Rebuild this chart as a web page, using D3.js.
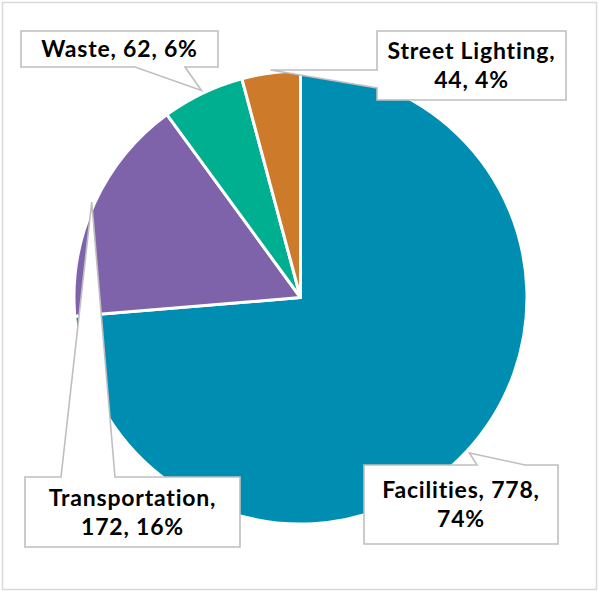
<!DOCTYPE html>
<html>
<head>
<meta charset="utf-8">
<script src="https://cdn.jsdelivr.net/npm/d3@7"></script>
<style>
  html, body { margin: 0; padding: 0; background: #fff; }
  svg { display: block; }
  .lbl { font-family: Lato, "DejaVu Sans", sans-serif; font-weight: 700; font-size: 23px; letter-spacing: 0.8px; fill: #000; }
</style>
</head>
<body>
<svg id="chart" width="599" height="591"></svg>
<script>
// Energy use by sector
const categories = ["Facilities", "Transportation", "Waste", "Street Lighting"];
const values = [778, 172, 62, 44];
const colors = ["#008DB2", "#7F63AA", "#00AF90", "#CD7A2B"];
// How many comma-separated parts of each label sit on the first line
const firstLineParts = [2, 1, 3, 1];

// Callout layout: box [x0, y0, x1, y1], the box side the pointer leaves from, and
// the two points of the pointer base along that side
const callouts = [
  { box: [364, 465, 558, 544], side: "top",    base: [477, 525] },
  { box: [25, 477, 240, 547],  side: "top",    base: [61, 115] },
  { box: [21, 31, 218, 67],    side: "bottom", base: [135, 185] },
  { box: [377, 31, 566, 100],  side: "left",   base: [70, 88] }
];

const W = 599, H = 591;
const cx = 300.5, cy = 297.5, R = 226.5;
const svg = d3.select("#chart");

// chart-area frame
svg.append("rect")
  .attr("x", 2.5).attr("y", 2.5)
  .attr("width", W - 5).attr("height", H - 4)
  .attr("fill", "#fff")
  .attr("stroke", "#D9D9D9").attr("stroke-width", 1.5);

const total = d3.sum(values);
const data = categories.map((c, i) => ({ name: c, value: values[i], i }));

const pie = d3.pie().value(d => d.value).sort(null).startAngle(0).endAngle(2 * Math.PI);
const arcs = pie(data);
const arc = d3.arc().innerRadius(0).outerRadius(R);

const g = svg.append("g").attr("transform", `translate(${cx},${cy})`);
g.selectAll("path.slice")
  .data(arcs)
  .join("path")
  .attr("class", "slice")
  .attr("d", arc)
  .attr("fill", d => colors[d.data.i])
  .attr("stroke", "#fff")
  .attr("stroke-width", 3)
  .attr("stroke-linejoin", "round");

// tip point of a callout: on the slice's mid-angle, just outside the rim
function tipPoint(a) {
  const m = (a.startAngle + a.endAngle) / 2;
  return [cx + (R + 3) * Math.sin(m), cy - (R + 3) * Math.cos(m)];
}

function calloutPath(c, tip) {
  const [x0, y0, x1, y1] = c.box;
  const [b0, b1] = c.base;
  const p = d3.path();
  if (c.side === "top") {
    p.moveTo(x0, y0); p.lineTo(b0, y0); p.lineTo(tip[0], tip[1]); p.lineTo(b1, y0);
    p.lineTo(x1, y0); p.lineTo(x1, y1); p.lineTo(x0, y1); p.closePath();
  } else if (c.side === "bottom") {
    p.moveTo(x0, y0); p.lineTo(x1, y0); p.lineTo(x1, y1); p.lineTo(b1, y1);
    p.lineTo(tip[0], tip[1]); p.lineTo(b0, y1); p.lineTo(x0, y1); p.closePath();
  } else {
    p.moveTo(x0, y0); p.lineTo(x1, y0); p.lineTo(x1, y1); p.lineTo(x0, y1);
    p.lineTo(x0, b1); p.lineTo(tip[0], tip[1]); p.lineTo(x0, b0); p.closePath();
  }
  return p.toString();
}

const lineGap = 29;
arcs.forEach(a => {
  const i = a.data.i;
  const c = callouts[i];
  const tip = tipPoint(a);
  svg.append("path")
    .attr("d", calloutPath(c, tip))
    .attr("fill", "#fff")
    .attr("stroke", "#BFBFBF")
    .attr("stroke-width", 1.6)
    .attr("stroke-linejoin", "miter");

  const pct = Math.round(a.data.value / total * 100);
  const parts = [a.data.name, String(a.data.value), pct + "%"];
  const n = firstLineParts[i];
  const lines = [parts.slice(0, n).join(", ") + (n < 3 ? "," : "")];
  if (n < 3) lines.push(parts.slice(n).join(", "));

  const bx = (c.box[0] + c.box[2]) / 2;
  const by = (c.box[1] + c.box[3]) / 2;
  const t = svg.append("text")
    .attr("class", "lbl")
    .attr("text-anchor", "middle");
  lines.forEach((ln, k) => {
    t.append("tspan")
      .attr("x", bx)
      .attr("y", by + 8 + (k - (lines.length - 1) / 2) * lineGap)
      .text(ln);
  });
});
</script>
</body>
</html>
